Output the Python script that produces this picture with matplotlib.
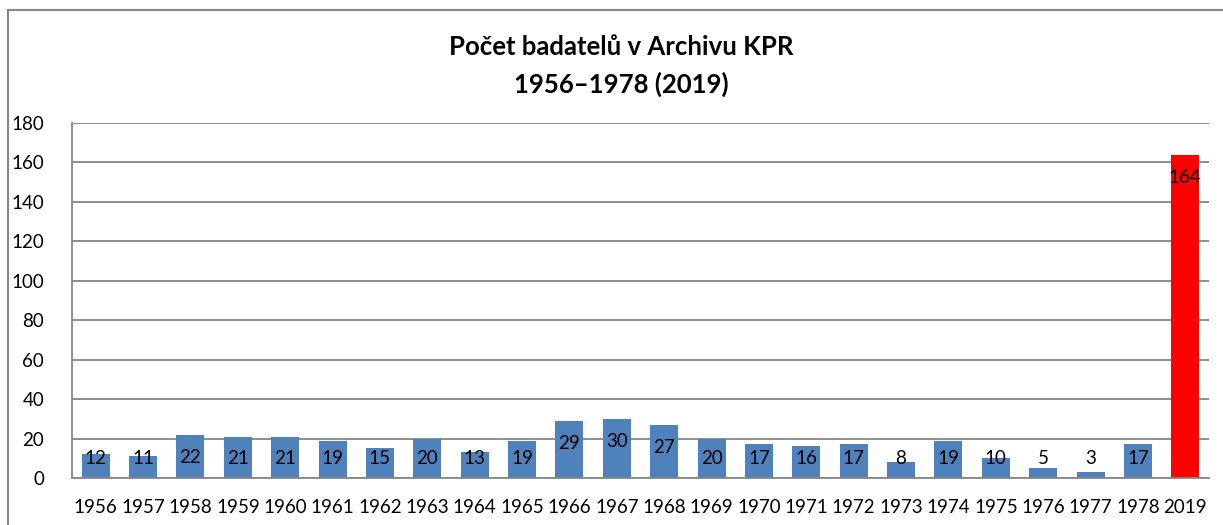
import matplotlib
matplotlib.use("Agg")
import matplotlib.pyplot as plt
from matplotlib.lines import Line2D

# Data
years = ["1956", "1957", "1958", "1959", "1960", "1961", "1962", "1963",
         "1964", "1965", "1966", "1967", "1968", "1969", "1970", "1971",
         "1972", "1973", "1974", "1975", "1976", "1977", "1978", "2019"]
counts = [12, 11, 22, 21, 21, 19, 15, 20, 13, 19, 29, 30, 27, 20, 17, 16,
          17, 8, 19, 10, 5, 3, 17, 164]
bar_colors = ["#4F81BD"] * 23 + ["#FF0000"]

plt.rcParams['font.family'] = ['Lato', 'DejaVu Sans']
grid_color = "#868686"

W, H = 1223, 525
fig = plt.figure(figsize=(W / 100, H / 100), dpi=100)
ax = fig.add_axes([72 / W, 1 - 478 / H, (1209 - 72) / W, (478 - 123) / H])

x = range(len(years))
ax.bar(x, counts, width=0.59, color=bar_colors, zorder=3)

# value labels (inside end, kept above the axis for small bars)
for i, v in enumerate(counts):
    ax.text(i, max(v - 11.7, 10.1), str(v), ha="center", va="center",
            fontsize=13.5, color="black", zorder=4)

ax.set_xlim(-0.5, len(years) - 0.5)
ax.set_ylim(0, 180)
ax.set_yticks(range(0, 181, 20))
ax.set_xticks(list(x))
ax.set_xticklabels(years)
ax.tick_params(axis="both", length=0, labelsize=13.5)
ax.tick_params(axis="x", pad=15)
ax.tick_params(axis="y", pad=20)
ax.yaxis.grid(True, color=grid_color, linewidth=1.3, zorder=0)
ax.set_axisbelow(True)
for s in ["top", "right"]:
    ax.spines[s].set_visible(False)
ax.spines["left"].set_color(grid_color)
ax.spines["bottom"].set_color(grid_color)
ax.spines["left"].set_linewidth(1.3)
ax.spines["bottom"].set_linewidth(1.3)
ax.spines["bottom"].set_zorder(5)

fig.text(621 / W, 1 - 47 / H, "Počet badatelů v Archivu KPR", ha="center", va="center",
         fontsize=18.5, fontweight="bold")
fig.text(621 / W, 1 - 84 / H, "1956–1978 (2019)", ha="center", va="center",
         fontsize=18.5, fontweight="bold")

# chart frame
fig.add_artist(Line2D([8 / W, 1], [1 - 10 / H, 1 - 10 / H], color=grid_color, linewidth=1.5))
fig.add_artist(Line2D([8 / W, 8 / W], [0, 1 - 10 / H], color=grid_color, linewidth=1.5))

fig.savefig("out.png", dpi=100)
